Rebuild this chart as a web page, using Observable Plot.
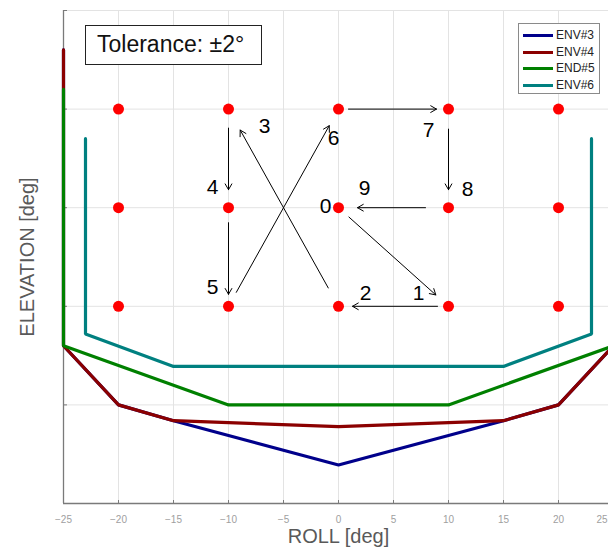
<!DOCTYPE html>
<html><head><meta charset="utf-8">
<script src="https://cdn.jsdelivr.net/npm/d3@7"></script>
<script src="https://cdn.jsdelivr.net/npm/@observablehq/plot@0.6"></script>
<style>
html,body{margin:0;padding:0;overflow:hidden;background:#fff;}
#wrap{position:relative;width:608px;height:553px;overflow:hidden;font-family:"Liberation Sans",Arial,sans-serif;}
#chart{position:absolute;left:0;top:0;width:620px;}
#chart svg{max-width:none !important;width:620px;height:553px;}
#tol{position:absolute;left:85px;top:25px;width:177px;height:40px;border:1px solid #222;background:#fff;box-sizing:border-box;font-size:23px;line-height:37px;padding-left:11px;color:#111;white-space:nowrap;}
#legend{position:absolute;left:518px;top:23px;width:82px;height:71px;border:1px solid #8a8a8a;background:#fff;box-sizing:border-box;}
.lrow{position:absolute;left:4px;height:16px;}
.lline{position:absolute;left:0;top:7px;width:30px;height:3px;}
.ltext{position:absolute;left:33px;top:0;font-size:12px;line-height:16px;color:#222;}
</style></head>
<body>
<div id="wrap"><div id="chart"></div><div id="tol">Tolerance: ±2°</div><div id="legend"></div></div>
<script>
// ---- data ----
const xTicks = [-25, -20, -15, -10, -5, 0, 5, 10, 15, 20, 25];
const xTickLabels = ["−25", "−20", "−15", "−10", "−5", "0", "5", "10", "15", "20", "25"];
const yTicks = [20, 10, 0, -10, -20];

const seriesNames = ["ENV#3", "ENV#4", "END#5", "ENV#6"];
const seriesColors = ["#00008b", "#8b0000", "#008000", "#008080"];

const env3Roll = [-25, -25, -20, -15, 0, 15, 20, 25, 25];
const env3Elev = [16, -14, -20, -21.6, -26.1, -21.6, -20, -14, 16];
const env4Roll = [-25, -25, -20, -15, 0, 15, 20, 25, 25];
const env4Elev = [16, -14, -20, -21.6, -22.2, -21.6, -20, -14, 16];
const env5Roll = [-25, -25, -10, 10, 25, 25];
const env5Elev = [12, -14, -20, -20, -14, 12];
const env6Roll = [-23, -23, -15, 15, 23, 23];
const env6Elev = [7, -12.8, -16.1, -16.1, -12.8, 7];

const dotRoll = [-20, -10, 0, 10, 20];
const dotElev = [10, 0, -10];

const seqRoll = [0, 10, 0, -10, -10, -10, 0, 10, 10, 0];
const seqElev = [0, -10, -10, 10, 0, -10, 10, 10, 0, 0];
const seqLabels = ["0", "1", "2", "3", "4", "5", "6", "7", "8", "9"];

// ---- layout (offsets in px) ----
const labelDx = [-13, -30, 27, 36, -16, -16, -5, -20, 19, 26];
const labelDy = [-1, -13, -13, 17, -20, -19, 29, 21, -18, -19];
const arrowInStart = [14, 11, 21, 19, 15, 16, 10, 20, 23];
const arrowInEnd = [17, 14, 24, 18, 12, 19, 12, 18, 19];

// ---- build ----
const envRolls = [env3Roll, env4Roll, env5Roll, env6Roll];
const envElevs = [env3Elev, env4Elev, env5Elev, env6Elev];
const lineData = envRolls.map((r, s) => r.map((x, i) => ({x, y: envElevs[s][i], s: seriesNames[s]})));
const dots = dotElev.flatMap(y => dotRoll.map(x => ({x, y})));
const seq = seqRoll.map((x, i) => ({x, y: seqElev[i], label: seqLabels[i]}));
const arrows = seq.slice(0, -1).map((d, i) => ({x1: d.x, y1: d.y, x2: seq[i + 1].x, y2: seq[i + 1].y}));
const lastTick = xTicks[xTicks.length - 1];

const marks = [
  Plot.gridX(xTicks, {stroke: "#e3e3e3", strokeOpacity: 1}),
  Plot.gridY(yTicks, {stroke: "#e3e3e3", strokeOpacity: 1}),
  Plot.ruleX([-25], {stroke: "#7a7a7a", strokeWidth: 1.3}),
  Plot.ruleY([-30], {stroke: "#7a7a7a", strokeWidth: 1.3}),
  Plot.axisX(xTicks, {tickSize: -3, stroke: "#7a7a7a", fill: "none", label: null}),
  Plot.axisX(xTicks.slice(0, -1), {tickSize: 0, tickPadding: 12, fill: "#a0a0a0", fontSize: 10,
    tickFormat: (d) => xTickLabels[xTicks.indexOf(d)], label: null}),
  Plot.text([lastTick], {x: d => d, frameAnchor: "bottom", dy: 12, lineAnchor: "top", dx: -6, textAnchor: "end",
    text: d => xTickLabels[xTicks.indexOf(d)], fill: "#a0a0a0", fontSize: 10}),
  Plot.axisY(yTicks, {tickSize: -4, stroke: "#7a7a7a", fill: "none", label: null}),
];
lineData.forEach((ld, s) => {
  marks.push(Plot.line(ld, {x: "x", y: "y", stroke: seriesColors[s], strokeWidth: 3.2, strokeLinejoin: "miter"}));
});
marks.push(Plot.dot(dots, {x: "x", y: "y", r: 5.5, fill: "#ff0000", stroke: "none"}));
arrows.forEach((a, i) => {
  marks.push(Plot.arrow([a], {x1: "x1", y1: "y1", x2: "x2", y2: "y2", stroke: "#000", strokeWidth: 1,
    headLength: 10, insetStart: arrowInStart[i], insetEnd: arrowInEnd[i]}));
});
seq.forEach((d, i) => {
  marks.push(Plot.text([d], {x: "x", y: "y", text: "label", dx: labelDx[i], dy: labelDy[i],
    fontSize: 21, fill: "#000", textAnchor: "middle", lineAnchor: "middle", fontFamily: "Liberation Sans, Arial, sans-serif"}));
});
marks.push(Plot.text(["ROLL [deg]"], {frameAnchor: "bottom", dy: 39, lineAnchor: "bottom", fontSize: 20, fill: "#595959"}));
marks.push(Plot.text(["ELEVATION [deg]"], {frameAnchor: "left", dx: -36, rotate: -90, textAnchor: "middle", fontSize: 20, fill: "#595959"}));

const chart = Plot.plot({
  width: 620, height: 553,
  marginLeft: 63, marginRight: 7, marginTop: 10, marginBottom: 50,
  style: {fontFamily: "Liberation Sans, Arial, sans-serif", background: "#fff", overflow: "visible", maxWidth: "none"},
  x: {domain: [-25, 25], axis: null},
  y: {domain: [-30, 20], axis: null},
  marks
});
chart.style.maxWidth = "none";
document.getElementById("chart").appendChild(chart);

// legend
const leg = document.getElementById("legend");
const rowTops = [3, 19.7, 36.3, 53];
seriesNames.forEach((n, i) => {
  const row = document.createElement("div");
  row.className = "lrow";
  row.style.top = rowTops[i] + "px";
  row.innerHTML = `<div class="lline" style="background:${seriesColors[i]}"></div><div class="ltext">${n}</div>`;
  leg.appendChild(row);
});
</script>
</body></html>
